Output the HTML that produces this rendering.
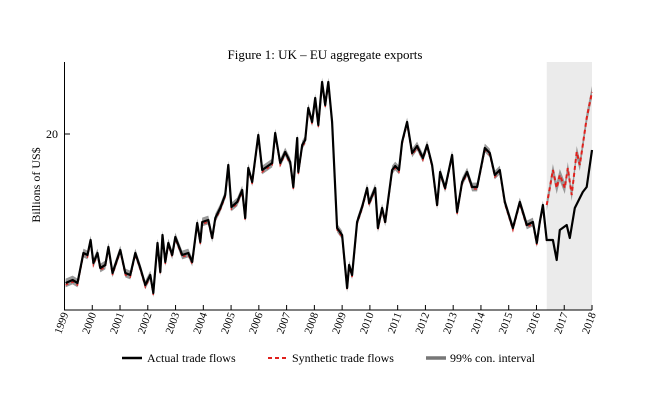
<!DOCTYPE html>
<html><head><meta charset="utf-8"><style>
html,body{margin:0;padding:0;background:#fff;}
svg{display:block;font-family:"Liberation Serif",serif;}
</style></head><body>
<svg id="chart" width="645" height="408" viewBox="0 0 645 408">
<text x="325" y="59" text-anchor="middle" font-size="13">Figure 1:  UK – EU aggregate exports</text>
<text transform="translate(40,185) rotate(-90)" text-anchor="middle" font-size="12">Billions of US$</text>
<rect id="shade" fill="#ebebeb"/>
<g id="marks"></g>
<line x1="64.5" y1="62" x2="64.5" y2="310" stroke="#000" stroke-width="1"/>
<line x1="64" y1="310" x2="592" y2="310" stroke="#000" stroke-width="1"/>
<g id="ticks"></g>
<g>
<line x1="122" y1="358" x2="142" y2="358" stroke="#000" stroke-width="2.5"/>
<text x="147" y="362" font-size="12">Actual trade flows</text>
<line x1="268" y1="358" x2="288" y2="358" stroke="#e0201c" stroke-width="2" stroke-dasharray="4,3"/>
<text x="292" y="362" font-size="12">Synthetic trade flows</text>
<line x1="426" y1="358" x2="446" y2="358" stroke="#777" stroke-width="3.5"/>
<text x="450" y="362" font-size="12">99% con. interval</text>
</g>
</svg>
<script>
const yearTicks = [1999,2000,2001,2002,2003,2004,2005,2006,2007,2008,2009,2010,2011,2012,2013,2014,2015,2016,2017,2018];
const valueTicks = [20];
const actualYears = [1999.04,1999.29,1999.47,1999.68,1999.83,1999.94,2000.04,2000.19,2000.29,2000.47,2000.58,2000.73,2001.01,2001.19,2001.37,2001.55,2001.73,2001.91,2002.09,2002.2,2002.35,2002.45,2002.53,2002.63,2002.74,2002.88,2002.99,2003.24,2003.46,2003.6,2003.78,2003.89,2003.96,2004.18,2004.32,2004.43,2004.61,2004.79,2004.9,2005.01,2005.22,2005.4,2005.51,2005.62,2005.76,2005.98,2006.12,2006.48,2006.59,2006.77,2006.95,2007.13,2007.24,2007.38,2007.42,2007.56,2007.67,2007.78,2007.92,2008.03,2008.14,2008.28,2008.39,2008.5,2008.64,2008.82,2009.0,2009.18,2009.25,2009.36,2009.54,2009.72,2009.9,2009.97,2010.19,2010.29,2010.44,2010.55,2010.8,2010.91,2011.05,2011.16,2011.34,2011.52,2011.7,2011.91,2012.06,2012.24,2012.42,2012.53,2012.71,2012.96,2013.14,2013.32,2013.5,2013.68,2013.86,2014.04,2014.14,2014.32,2014.5,2014.68,2014.86,2015.15,2015.4,2015.65,2015.87,2016.01,2016.12,2016.23,2016.37,2016.59,2016.73,2016.84,2017.09,2017.2,2017.38,2017.67,2017.81,2018.0];
const actualValues = [12.55,12.7,12.55,14.05,13.95,14.7,13.55,14.05,13.3,13.45,14.35,13.05,14.2,13.05,12.95,14.05,13.3,12.45,12.95,12.05,14.55,13.1,14.95,13.6,14.55,13.95,14.85,13.95,14.05,13.6,15.55,14.6,15.6,15.7,14.8,15.8,16.3,16.95,18.45,16.35,16.6,17.2,15.8,18.3,17.6,19.95,18.2,18.55,20.05,18.55,19.1,18.6,17.35,19.8,18.1,19.45,19.7,21.3,20.6,21.8,20.45,22.6,21.45,22.6,20.6,15.3,14.95,12.3,13.45,12.95,15.6,16.35,17.3,16.55,17.3,15.3,16.3,15.6,18.2,18.4,18.2,19.6,20.6,19.05,19.4,18.8,19.45,18.45,16.45,18.1,17.3,18.95,16.1,17.6,18.1,17.35,17.35,18.6,19.3,19.05,17.95,18.2,16.6,15.3,16.6,15.45,15.6,14.55,15.6,16.45,14.7,14.7,13.7,15.2,15.45,14.8,16.3,17.1,17.35,19.2];
const synthYears = [2016.37,2016.48,2016.59,2016.73,2016.84,2017.02,2017.13,2017.27,2017.45,2017.56,2017.67,2017.81,2018.0];
const synthValues = [16.45,17.3,18.2,17.3,17.95,17.3,18.3,16.95,19.1,18.45,19.45,20.8,22.1];
const preBandWidth = 0.22;
const postBandWidth = 0.3;

const X0=64.5, X1=592, Y20=134, PXU=20;
function xs(t){return X0+(t-1999)*(X1-X0)/19;}
function ys(v){return Y20-(v-20)*PXU;}
const NS='http://www.w3.org/2000/svg';
const marks=document.getElementById('marks'), ticks=document.getElementById('ticks');
const shade=document.getElementById('shade');
shade.setAttribute('x',xs(synthYears[0])); shade.setAttribute('y',62);
shade.setAttribute('width',X1-xs(synthYears[0])); shade.setAttribute('height',248);
function pts(ts,vs,off){return ts.map((t,i)=>xs(t).toFixed(1)+','+ys(vs[i]+off).toFixed(1)).join(' ');}
function band(ts,vs,w,name){
  const p=document.createElementNS(NS,'polygon');
  const up=ts.map((t,i)=>xs(t).toFixed(1)+','+ys(vs[i]+w).toFixed(1));
  const dn=ts.map((t,i)=>xs(t).toFixed(1)+','+ys(vs[i]-w).toFixed(1)).reverse();
  p.setAttribute('points',up.concat(dn).join(' '));
  p.setAttribute('fill','#999');
  
  
  marks.appendChild(p);
}
const preY=actualYears.filter(t=>t<=synthYears[0]);
const preV=actualValues.filter((v,i)=>actualYears[i]<=synthYears[0]);
band(preY,preV,preBandWidth,'pre-interval-band');
band(synthYears,synthValues,postBandWidth,'interval-band');
const pre=document.createElementNS(NS,'polyline');
pre.setAttribute('points',pts(preY,preV,-0.1));
pre.setAttribute('fill','none');pre.setAttribute('stroke','#d42a2a');pre.setAttribute('stroke-width','1.5');pre.setAttribute('stroke-dasharray','3,3');


marks.appendChild(pre);
const act=document.createElementNS(NS,'polyline');
act.setAttribute('points',pts(actualYears,actualValues,0));
act.setAttribute('fill','none');act.setAttribute('stroke','#000');act.setAttribute('stroke-width','2.2');act.setAttribute('stroke-linejoin','round');


marks.appendChild(act);
const syn=document.createElementNS(NS,'polyline');
syn.setAttribute('points',pts(synthYears,synthValues,0));
syn.setAttribute('fill','none');syn.setAttribute('stroke','#e0201c');syn.setAttribute('stroke-width','2');syn.setAttribute('stroke-dasharray','4,3');


marks.appendChild(syn);
yearTicks.forEach(yr=>{
  const x=xs(yr);
  const l=document.createElementNS(NS,'line');
  l.setAttribute('x1',x);l.setAttribute('x2',x);l.setAttribute('y1',310);l.setAttribute('y2',305);l.setAttribute('stroke','#000');
  
  
  ticks.appendChild(l);
  const t=document.createElementNS(NS,'text');
  t.setAttribute('transform','translate('+(x+4)+',314) rotate(-70)');
  t.setAttribute('text-anchor','end');t.setAttribute('font-size','11');
  t.textContent=yr;
  
  
  ticks.appendChild(t);
});
valueTicks.forEach(v=>{
  const y=ys(v);
  const l=document.createElementNS(NS,'line');
  l.setAttribute('x1',64.5);l.setAttribute('x2',70);l.setAttribute('y1',y);l.setAttribute('y2',y);l.setAttribute('stroke','#000');
  
  
  ticks.appendChild(l);
  const t=document.createElementNS(NS,'text');
  t.setAttribute('x',58);t.setAttribute('y',y+4);t.setAttribute('text-anchor','end');t.setAttribute('font-size','12');
  t.textContent=v;
  
  
  ticks.appendChild(t);
});
</script>
</body></html>
